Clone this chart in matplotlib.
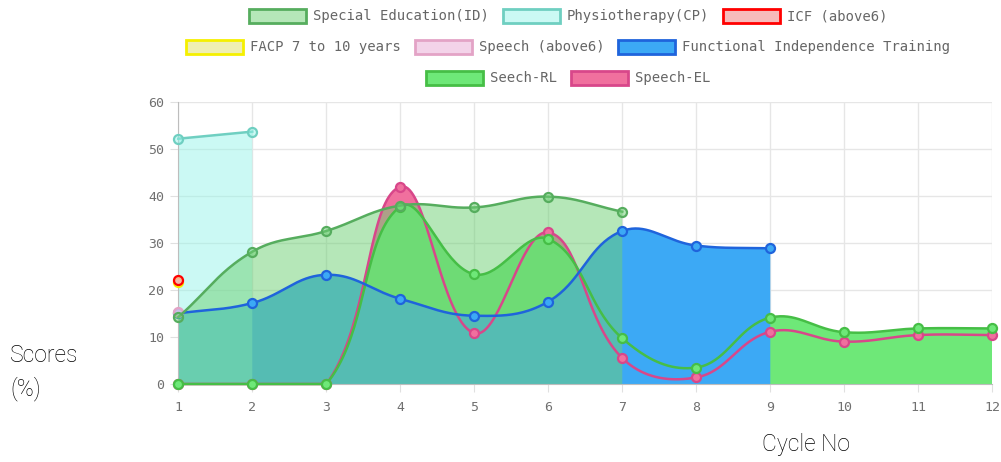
import numpy as np
import matplotlib.pyplot as plt
from matplotlib.patches import Patch

# данні
cycles = list(range(1, 13))
tick_labels = [str(c) for c in cycles]

special_ed = [14.2, 28.1, 32.5, 37.9, 37.5, 39.8, 36.6]
physio = [52.1, 53.6]
icf = [22.1]
facp = [21.7]
speech_above6 = [15.4]
fit = [15.0, 17.2, 23.2, 18.1, 14.5, 17.5, 32.5, 29.4, 28.8]
seech_rl = [0, 0, 0, 37.7, 23.3, 30.8, 9.7, 3.5, 14.1, 11.0, 11.8, 11.8]
speech_el = [0, 0, 0, 41.9, 10.8, 32.2, 5.5, 1.4, 11.1, 9.0, 10.4, 10.4]

names = ["Special Education(ID)", "Physiotherapy(CP)", "ICF (above6)",
         "FACP 7 to 10 years", "Speech (above6)", "Functional Independence Training",
         "Seech-RL", "Speech-EL"]
values = [special_ed, physio, icf, facp, speech_above6, fit, seech_rl, speech_el]

# стилі
line_colors = ["#56ad5e", "#6fcfc1", "#ff0000", "#f5f000", "#e3a3c6", "#1f64dc", "#46be46", "#d8478a"]
fill_colors = [(110/255, 208/255, 116/255, 0.51), (146/255, 244/255, 232/255, 0.47),
               (245/255, 170/255, 170/255, 0.8), (235/255, 235/255, 160/255, 0.8),
               (240/255, 200/255, 228/255, 0.8), (60/255, 169/255, 245/255, 1.0),
               (110/255, 232/255, 120/255, 1.0), (240/255, 112/255, 158/255, 1.0)]
legend_rows = [[0, 1, 2], [3, 4, 5], [6, 7]]
mono = "DejaVu Sans Mono"


def chartjs_curve(ax, xs, ys, tension=0.4, n=40):
    # криві Безьє як у Chart.js, рахуємо в пікселях
    p = ax.transData.transform(np.column_stack([xs, ys]))
    bb = ax.bbox
    k = len(p)
    cp_prev, cp_next = [], []
    for i in range(k):
        prev = p[i - 1] if i > 0 else p[i]
        nxt = p[i + 1] if i < k - 1 else p[i]
        d01 = np.hypot(*(p[i] - prev))
        d12 = np.hypot(*(nxt - p[i]))
        tot = d01 + d12
        s01 = d01 / tot if tot else 0
        s12 = d12 / tot if tot else 0
        a = p[i] - tension * s01 * (nxt - prev)
        b = p[i] + tension * s12 * (nxt - prev)
        for c in (a, b):
            c[0] = min(max(c[0], bb.x0), bb.x1)
            c[1] = min(max(c[1], bb.y0), bb.y1)
        cp_prev.append(a)
        cp_next.append(b)
    t = np.linspace(0, 1, n)[:, None]
    segs = []
    for i in range(k - 1):
        p0, p1, p2, p3 = p[i], cp_next[i], cp_prev[i + 1], p[i + 1]
        seg = (1 - t) ** 3 * p0 + 3 * (1 - t) ** 2 * t * p1 + 3 * (1 - t) * t ** 2 * p2 + t ** 3 * p3
        segs.append(seg)
    pix = np.vstack(segs)
    return ax.transData.inverted().transform(pix)


fig = plt.figure(figsize=(10.01, 4.62), dpi=100)
ax = fig.add_axes([0.1781, 0.1688, 0.9913 - 0.1781, 0.7803 - 0.1688])
ax.set_xlim(1, 12)
ax.set_ylim(0, 60)

n_ds = len(values)
# заливки — знизу останній набір, зверху перший
for i in reversed(range(n_ds)):
    ys = values[i]
    if len(ys) < 2:
        continue
    xs = cycles[:len(ys)]
    curve = chartjs_curve(ax, xs, ys)
    ax.fill(np.r_[curve[:, 0], xs[-1], xs[0]], np.r_[curve[:, 1], 0, 0],
            color=fill_colors[i], lw=0, zorder=2 + (n_ds - i) * 0.01)

# лінії та точки
for i in reversed(range(n_ds)):
    ys = values[i]
    xs = cycles[:len(ys)]
    z = 5 + (n_ds - i) * 0.1
    if len(ys) > 1:
        curve = chartjs_curve(ax, xs, ys)
        ax.plot(curve[:, 0], curve[:, 1], color=line_colors[i], lw=1.8, zorder=z, clip_on=False)
    ax.plot(xs, ys, "o", ms=6.5, mfc=fill_colors[i], mec=line_colors[i], mew=1.6,
            zorder=z + 0.05, clip_on=False)

ax.set_xticks(cycles)
ax.set_xticklabels(tick_labels)
ax.set_yticks(range(0, 61, 10))
ax.grid(True, color="#e6e6e6", lw=1)
ax.set_axisbelow(True)
for s in ["top", "right"]:
    ax.spines[s].set_visible(False)
for s in ["left", "bottom"]:
    ax.spines[s].set_color("#bdbdbd")
ax.tick_params(axis="both", length=6, color="#e0e0e0", labelcolor="#707070", labelsize=9.5)
ax.tick_params(axis="x", pad=6)
ax.tick_params(axis="y", pad=4)
for lab in ax.get_xticklabels() + ax.get_yticklabels():
    lab.set_family(mono)

# легенда у три рядки
for r, row in enumerate(legend_rows):
    handles = [Patch(facecolor=fill_colors[i], edgecolor=line_colors[i], lw=2) for i in row]
    fig.legend(handles, [names[i] for i in row], loc="center",
               bbox_to_anchor=(0.5675, 1 - (16 + 31 * r) / 462), ncol=len(row),
               frameon=False, handlelength=4.1, handleheight=1.2, handletextpad=0.5,
               columnspacing=1.0, borderpad=0, borderaxespad=0,
               prop={"family": mono, "size": 10}, labelcolor="#666666")

label_style = dict(family="Roboto", fontweight="light", fontsize=16.5,
                   va="center", ha="left", color="#000000")
fig.text(10 / 1001, 1 - 356 / 462, "Scores", **label_style)
fig.text(10 / 1001, 1 - 389 / 462, "(%)", **label_style)
fig.text(762 / 1001, 1 - 444 / 462, "Cycle No", **label_style)

fig.savefig("out.png", dpi=100)
